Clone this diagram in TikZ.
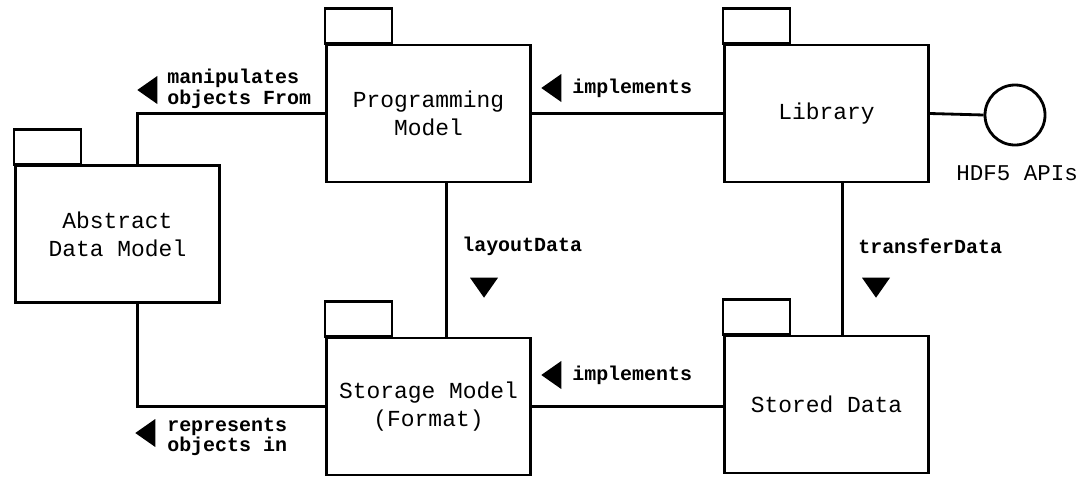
\documentclass[tikz,border=0pt]{standalone}
\usepackage{fontspec}
\setmonofont{Liberation Mono}
\usetikzlibrary{shapes.geometric,calc}

\begin{document}
\begin{tikzpicture}[
  x=0.025cm, y=-0.025cm,
  pkg/.style={draw, line width=2pt, minimum width=5.1cm, minimum height=3.42cm,
              align=center, font=\fontsize{16.3}{20}\selectfont\ttfamily},
  iface/.style={draw, circle, line width=2pt, minimum size=1.5cm, inner sep=0pt},
  conn/.style={line width=2pt},
  lbl/.style={font=\fontsize{14.2}{14.5}\selectfont\ttfamily\bfseries, align=left, inner sep=0pt},
  tri/.style={isosceles triangle, isosceles triangle apex angle=70, fill=black,
              inner sep=0pt, minimum height=0.5cm, minimum width=0.55cm}
]
\useasboundingbox (0,0) rectangle (1082,480);

% packages
\node[pkg] (adm)   at (117.5, 234)   {Abstract\\Data Model};
\node[pkg] (prog)  at (428.5, 113.5) {Programming\\Model};
\node[pkg] (lib)   at (826.5, 113.5) {Library};
\node[pkg] (store) at (428.5, 406.5) {Storage Model\\(Format)};
\node[pkg] (data)  at (826.5, 404.5) {Stored Data};
\foreach \p in {adm,prog,lib,store,data}
  \draw[line width=2pt] (\p.north west) rectangle ++(67,-35);

% interface
\node[iface] (api) at (1015, 115) {};
\node[font=\fontsize{16}{20}\selectfont\ttfamily, inner sep=0pt] (apilbl) at (1017, 173) {HDF5 APIs};

% connectors
\draw[conn] ($(adm.north)+(20,0)$) |- (prog.west);
\draw[conn] ($(adm.south)+(20,0)$) |- (store.west);
\draw[conn] (prog.east) -- (lib.west);
\draw[conn] (lib.east) -- (api.west);
\draw[conn] ($(prog.south)+(18,0)$) -- ($(store.north)+(18,0)$);
\draw[conn] ($(lib.south)+(16,0)$) -- ($(data.north)+(16,0)$);
\draw[conn] (store.east) -- (store.east -| data.west);

% labels
\node[tri, shape border rotate=180] (t1) at (150, 90) {};
\node[lbl, anchor=west] (l1) at (167, 89) {manipulates\\objects From};
\node[tri, shape border rotate=180] (t2) at (554, 88) {};
\node[lbl, anchor=west] (l2) at (572, 88) {implements};
\node[lbl, anchor=west] (l3) at (462, 246) {layoutData};
\node[tri, shape border rotate=270] (t3) at (484, 285) {};
\node[lbl, anchor=west] (l4) at (858, 246) {transferData};
\node[tri, shape border rotate=270] (t4) at (876, 285) {};
\node[tri, shape border rotate=180] (t5) at (554, 375) {};
\node[lbl, anchor=west] (l5) at (572, 375) {implements};
\node[tri, shape border rotate=180] (t6) at (148, 433) {};
\node[lbl, anchor=west] (l6) at (167, 437) {represents\\objects in};
\end{tikzpicture}
\end{document}
